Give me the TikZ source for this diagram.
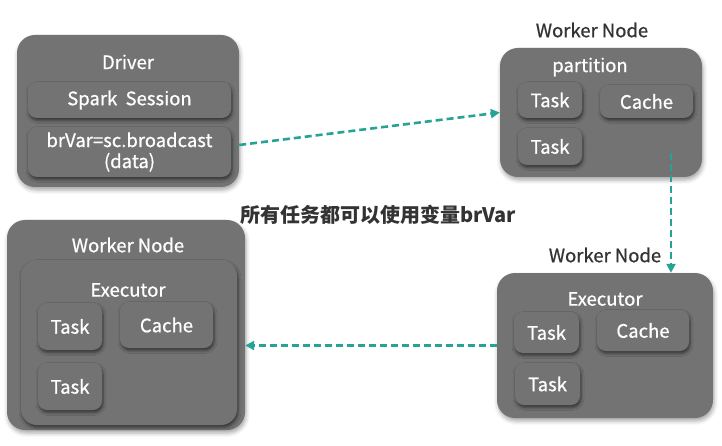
\documentclass[tikz,border=0pt]{standalone}
\usepackage{fontspec}
\setmainfont{Noto Sans CJK SC}
\newfontfamily\medfont[FakeBold=0.7]{Noto Sans CJK SC}
\usepackage{xcolor}
\usetikzlibrary{positioning,calc,shadows.blur,arrows.meta}
\definecolor{boxgray}{RGB}{115,115,115}
\definecolor{flowteal}{RGB}{38,163,148}
\definecolor{labelgray}{RGB}{51,51,51}
\tikzset{
  outerbox/.style={draw=none, fill=boxgray, rounded corners=18pt,
    blur shadow={shadow opacity=35, shadow xshift=1pt, shadow yshift=-3pt, shadow blur radius=4pt}},
  innerbox/.style={draw=none, fill=boxgray, rounded corners=9pt, text=white,
    font=\medfont\fontsize{18.5}{20}\selectfont,
    blur shadow={shadow opacity=55, shadow xshift=1pt, shadow yshift=-2.5pt, shadow blur radius=3pt}},
  title/.style={text=white, font=\medfont\fontsize{18.5}{20}\selectfont},
  caption/.style={text=labelgray, font=\medfont\fontsize{18.5}{20}\selectfont},
  flow/.style={flowteal, line width=2.6pt, dash pattern=on 7pt off 4pt,
    -{Triangle[length=9pt,width=9pt]}}
}
\begin{document}
\begin{tikzpicture}[x=1pt,y=-1pt]
        \useasboundingbox (0,0) rectangle (722,446);

        % Driver
        \node[outerbox, minimum width=222pt, minimum height=152pt] (driver) at (128,111) {};
        \node[title] (drivertitle) at (128,62) {Driver};
        \node[innerbox, minimum width=203pt, minimum height=36pt] (session) at (129.5,100) {Spark~~Session};
        \node[innerbox, minimum width=203pt, minimum height=50pt, align=center,
              font=\medfont\fontsize{18.5}{21}\selectfont] (bcast) at (129.5,152) {brVar=sc.broadcast\\(data)};

        % Worker node with partition
        \node[caption] (w1label) at (592,30) {Worker Node};
        \node[outerbox, minimum width=202pt, minimum height=129pt] (w1) at (601,112.5) {};
        \node[title] (w1title) at (590,67) {partition};
        \node[innerbox, minimum width=64pt, minimum height=36pt] (w1taska) at (550,100) {Task};
        \node[innerbox, minimum width=93pt, minimum height=33pt] (w1cache) at (646.5,101.5) {Cache};
        \node[innerbox, minimum width=64pt, minimum height=37pt] (w1taskb) at (550,146.5) {Task};

        % Worker node with executor (right)
        \node[caption] (w2label) at (605,255) {Worker Node};
        \node[outerbox, minimum width=216pt, minimum height=145pt] (w2) at (605,345.5) {};
        \node[title] (w2title) at (605,299) {Executor};
        \node[innerbox, minimum width=65pt, minimum height=41pt] (w2taska) at (546.5,332.5) {Task};
        \node[innerbox, minimum width=92pt, minimum height=41pt] (w2cache) at (643,330.5) {Cache};
        \node[innerbox, minimum width=65pt, minimum height=42pt] (w2taskb) at (547.5,384) {Task};

        % Worker node with executor (left)
        \node[outerbox, minimum width=238pt, minimum height=210pt] (w3) at (126,325) {};
        \node[title] (w3title) at (128,245) {Worker Node};
        \node[innerbox, rounded corners=16pt, minimum width=216pt, minimum height=165pt] (w3exec) at (129,342.5) {};
        \node[title] (w3exectitle) at (128,290) {Executor};
        \node[innerbox, minimum width=64pt, minimum height=47pt] (w3taska) at (70,326.5) {Task};
        \node[innerbox, minimum width=93pt, minimum height=46pt] (w3cache) at (166.5,325) {Cache};
        \node[innerbox, minimum width=64pt, minimum height=47pt] (w3taskb) at (70,386.5) {Task};

        % Note
        \node[caption, font=\fontsize{20}{22}\selectfont\bfseries] (note) at (378,215) {所有任务都可以使用变量brVar};

        % Flow
        \coordinate (drop) at (671,153);
        \draw[flow] (driver.-17) -- (w1.west);
        \draw[flow] (drop) -- (drop |- w2.north);
        \draw[flow] (w2.west) -- (w3.east |- w2.west);
    \end{tikzpicture}
\end{document}
